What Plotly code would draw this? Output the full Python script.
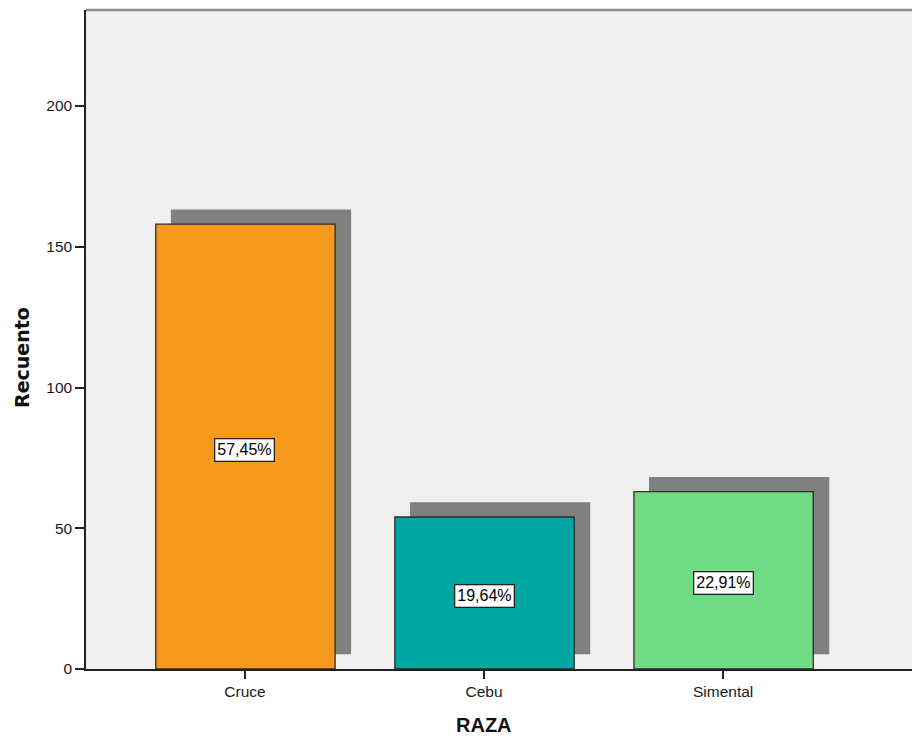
import plotly.graph_objects as go

# Breed counts
categories = ["Cruce", "Cebu", "Simental"]
counts = [158, 54, 63]
colors = ["#F8981D", "#00A6A1", "#70DB84"]

total = sum(counts)
pct_labels = [f"{c / total * 100:.2f}%".replace(".", ",") for c in counts]

fig = go.Figure()

# Drop shadow behind each bar
fig.add_trace(go.Bar(
    x=categories, y=counts, base=5.2,
    width=0.754, offset=-0.31,
    marker=dict(color="#808080", line=dict(width=0)),
    hoverinfo="skip", showlegend=False,
))

# Main bars
fig.add_trace(go.Bar(
    x=categories, y=counts,
    width=0.75, offset=-0.373,
    marker=dict(color=colors, line=dict(color="#2b2b2b", width=1.3)),
    showlegend=False,
))

# Percentage labels in boxes at mid-height
for cat, c, lab in zip(categories, counts, pct_labels):
    fig.add_annotation(
        x=cat, y=c / 2, text=lab, showarrow=False, yshift=-3,
        font=dict(family="Liberation Sans, Arial", size=16, color="#000"),
        bgcolor="white", bordercolor="#222", borderwidth=1.3, borderpad=2,
    )

# Axis titles
fig.add_annotation(
    x="Cebu", y=0, yref="y", xref="x", yshift=-56, yanchor="middle",
    text="<b>RAZA</b>", showarrow=False,
    font=dict(family="Liberation Sans, Arial", size=20, color="#111"),
)
fig.add_annotation(
    xref="paper", yref="paper", x=0, xshift=-77, y=0.472,
    text="<b>Recuento</b>", textangle=-90, showarrow=False,
    font=dict(family="DejaVu Sans", size=19, color="#111"),
)

# Grey frame line along the top of the plot area
fig.add_shape(type="line", xref="paper", yref="paper", x0=0, x1=1, y0=1, y1=1,
              line=dict(color="#8a8a8a", width=2.5))

fig.update_layout(
    width=912, height=740,
    margin=dict(l=86, r=0, t=10, b=71),
    paper_bgcolor="white", plot_bgcolor="#EFEFEF",
    barmode="overlay",
    font=dict(family="Liberation Sans, Arial", color="#222"),
)

fig.update_xaxes(
    range=[-0.665, 2.79],
    showgrid=False, zeroline=False,
    showline=True, linecolor="#222", linewidth=1.5,
    ticks="outside", ticklen=8, tickcolor="#222", tickwidth=1.5,
    tickfont=dict(size=15.5, color="#1a1a1a"),
)

fig.update_yaxes(
    range=[0, 234.1],
    tickvals=[0, 50, 100, 150, 200],
    showgrid=False, zeroline=False,
    showline=True, linecolor="#222", linewidth=1.5,
    ticks="outside", ticklen=9, tickcolor="#222", tickwidth=1.5,
    tickfont=dict(size=15.5, color="#1a1a1a"),
)

fig.write_html("out.html")
